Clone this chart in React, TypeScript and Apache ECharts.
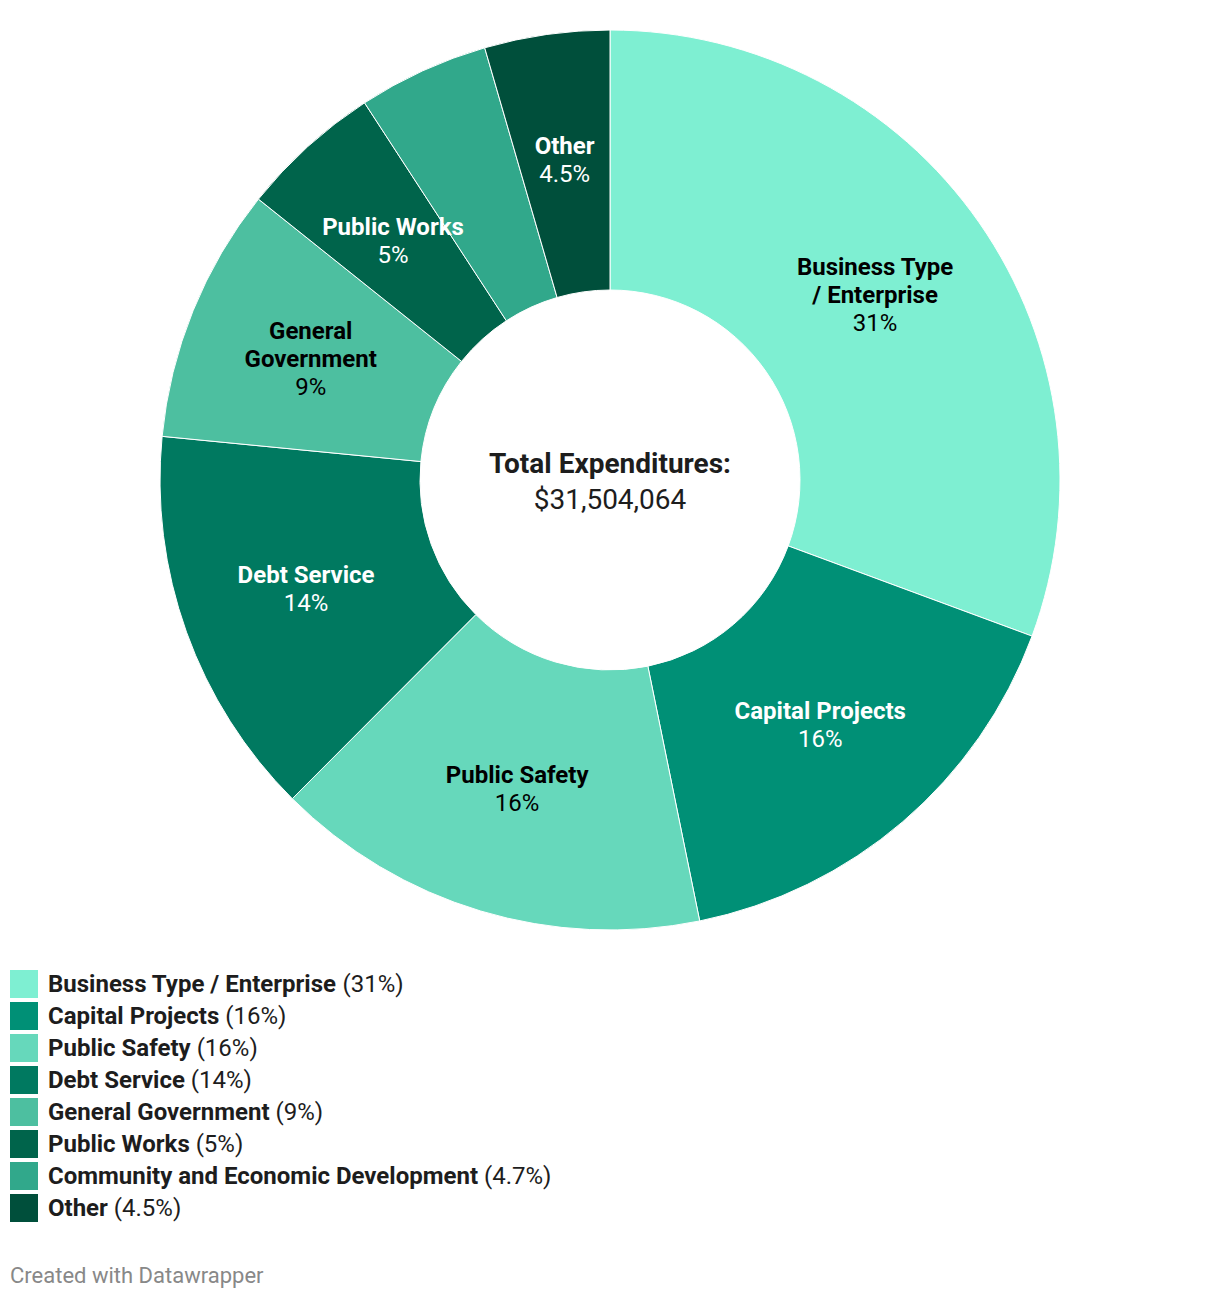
import React, { useEffect, useRef } from "react";
import * as echarts from "echarts";

const categories = [
  "Business Type / Enterprise",
  "Capital Projects",
  "Public Safety",
  "Debt Service",
  "General Government",
  "Public Works",
  "Community and Economic Development",
  "Other",
];
const sliceLabels = [
  "Business Type\n/ Enterprise",
  "Capital Projects",
  "Public Safety",
  "Debt Service",
  "General\nGovernment",
  "Public Works",
  "",
  "Other",
];
const values = [30.7, 16.2, 15.7, 14.1, 9.2, 5.1, 4.7, 4.5];
const pctLabels = ["31%", "16%", "16%", "14%", "9%", "5%", "4.7%", "4.5%"];
const colors = ["#7eefd2", "#009076", "#66d8bb", "#007960", "#4dbfa0", "#00644b", "#31a88b", "#004f3b"];
const labelColors = ["#000", "#fff", "#000", "#fff", "#000", "#fff", "#fff", "#fff"];
const totalLabel = "Total Expenditures:";
const totalValue = "$31,504,064";

export default function App() {
  const ref = useRef<HTMLDivElement>(null);
  useEffect(() => {
    if (!ref.current) return;
    const chart = echarts.init(ref.current, null, { renderer: "svg" });
    const font = "Roboto, sans-serif";
    chart.setOption({
      animation: false,
      textStyle: { fontFamily: font },
      legend: {
        orient: "vertical",
        left: 2,
        top: 962,
        padding: 0,
        itemWidth: 28,
        itemHeight: 28,
        itemGap: 4,
        icon: "rect",
        selectedMode: false,
        itemStyle: { borderWidth: 0 },
        data: categories,
        formatter: (name: string) => {
          const i = categories.indexOf(name);
          return `{b|${name}}{p| (${pctLabels[i]})}`;
        },
        textStyle: {
          padding: [0, 0, 0, 5],
          rich: {
            b: { fontFamily: font, fontWeight: "bold", fontSize: 24, color: "#1d1d1d", lineHeight: 28 },
            p: { fontFamily: font, fontSize: 24, color: "#1d1d1d", lineHeight: 28 },
          },
        },
      },
      graphic: [
        {
          type: "text",
          left: 2,
          top: 1256,
          style: { text: "Created with Datawrapper", fontFamily: font, fontSize: 22, fill: "#888" },
        },
        {
          type: "text",
          x: 602,
          y: 455,
          style: {
            text: totalLabel,
            fontFamily: font,
            fontWeight: "bold",
            fontSize: 28,
            fill: "#1d1d1d",
            align: "center",
            verticalAlign: "middle",
          },
        },
        {
          type: "text",
          x: 602,
          y: 491,
          style: {
            text: totalValue,
            fontFamily: font,
            fontSize: 28,
            fill: "#1d1d1d",
            align: "center",
            verticalAlign: "middle",
          },
        },
      ],
      series: [
        {
          type: "pie",
          center: [602, 472],
          radius: [190, 450],
          startAngle: 90,
          clockwise: true,
          avoidLabelOverlap: false,
          itemStyle: { borderColor: "#fff", borderWidth: 1 },
          emphasis: { disabled: true },
          labelLine: { show: false },
          data: categories.map((name, i) => ({
            name,
            value: values[i],
            itemStyle: { color: colors[i] },
            label: {
              show: sliceLabels[i] !== "",
              position: "inside",
              formatter: `{n|${sliceLabels[i]}}\n{p|${pctLabels[i]}}`,
              lineHeight: 28,
              rich: {
                n: { fontFamily: font, fontWeight: "bold", fontSize: 24, color: labelColors[i], lineHeight: 28, align: "center" },
                p: { fontFamily: font, fontSize: 24, color: labelColors[i], lineHeight: 28, align: "center" },
              },
            },
          })),
        },
      ],
    });
    return () => chart.dispose();
  }, []);
  return <div ref={ref} style={{ width: 1204, height: 1282 }} />;
}
